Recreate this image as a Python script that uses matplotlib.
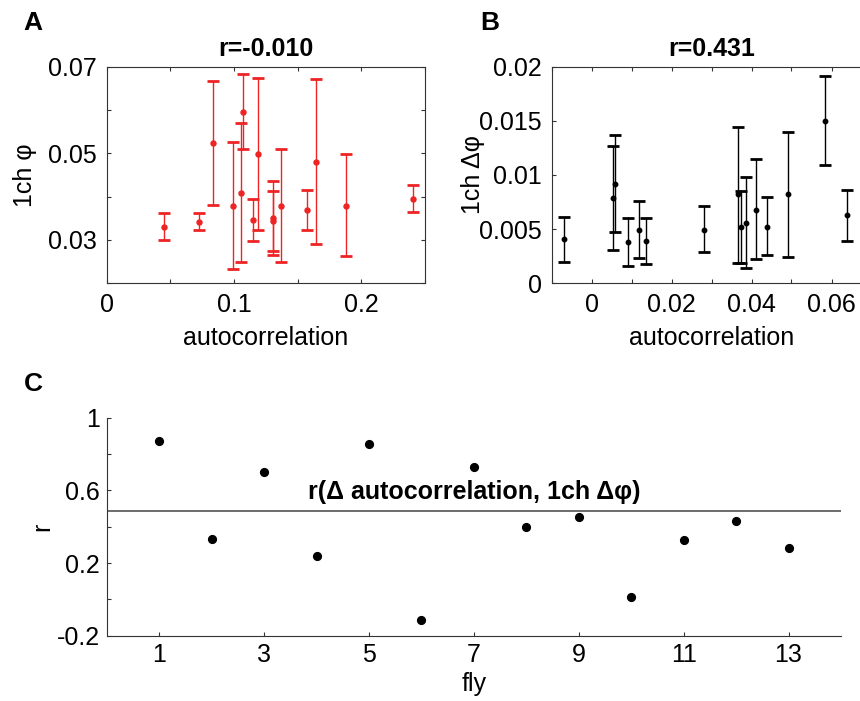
import numpy as np
import matplotlib
matplotlib.use('Agg')
import matplotlib.pyplot as plt

plt.rcParams['font.family'] = ['Liberation Sans', 'DejaVu Sans']

# --- Дані панелі A ---
a_x = [0.0451, 0.0729, 0.0837, 0.0992, 0.1052, 0.1068, 0.1149, 0.1188,
       0.1306, 0.1309, 0.1372, 0.1577, 0.1642, 0.1883, 0.2405]
a_y = [0.0331, 0.0342, 0.0523, 0.0379, 0.0409, 0.0595, 0.0346, 0.0499,
       0.0350, 0.0343, 0.0378, 0.0369, 0.0481, 0.0379, 0.0395]
a_lo = [0.0299, 0.0322, 0.0381, 0.0232, 0.0249, 0.0509, 0.0298, 0.0322,
        0.0266, 0.0275, 0.0249, 0.0323, 0.0291, 0.0262, 0.0364]
a_hi = [0.0362, 0.0363, 0.0667, 0.0526, 0.0570, 0.0684, 0.0395, 0.0675,
        0.0436, 0.0412, 0.0509, 0.0415, 0.0672, 0.0498, 0.0428]

# --- Дані панелі B ---
b_x = [-0.0069, 0.0054, 0.0059, 0.0092, 0.0119, 0.0136, 0.0280, 0.0367,
       0.0374, 0.0385, 0.0411, 0.0438, 0.0490, 0.0584, 0.0639]
b_y = [0.0041, 0.0079, 0.0092, 0.0038, 0.0049, 0.0039, 0.0049, 0.0082,
       0.0052, 0.0056, 0.0068, 0.0052, 0.0082, 0.0150, 0.0063]
b_lo = [0.0020, 0.0031, 0.0047, 0.0016, 0.0023, 0.0018, 0.0029, 0.0019,
        0.0019, 0.0014, 0.0022, 0.0026, 0.0024, 0.0109, 0.0039]
b_hi = [0.0061, 0.0127, 0.0137, 0.0060, 0.0076, 0.0060, 0.0071, 0.0144,
        0.0085, 0.0098, 0.0115, 0.0080, 0.0140, 0.0191, 0.0086]

# --- Дані панелі C ---
flies = np.arange(1, 14)
r_vals = [0.872, 0.333, 0.701, 0.236, 0.854, -0.114, 0.729, 0.399,
          0.456, 0.015, 0.328, 0.433, 0.284]
r_ref = 0.486

FS = 18
AX_COLOR = '#333333'

fig = plt.figure(figsize=(8.6, 7.01), dpi=100)
W, H = 860.0, 701.0


def px_axes(left, top, right, bottom):
    return fig.add_axes([left / W, 1 - bottom / H, (right - left) / W, (bottom - top) / H])


def style(ax, box=True, pad=7):
    for s in ax.spines.values():
        s.set_color(AX_COLOR)
        s.set_linewidth(0.8)
    if not box:
        ax.spines['top'].set_visible(False)
        ax.spines['right'].set_visible(False)
    ax.tick_params(direction='in', length=3, width=0.8, color=AX_COLOR,
                   labelsize=FS, top=box, right=box, pad=pad)


def err(y, lo, hi):
    y, lo, hi = np.array(y), np.array(lo), np.array(hi)
    return [y - lo, hi - y]


# --- Панель A ---
axA = px_axes(106.7, 66.7, 424.7, 283.3)
axA.errorbar(a_x, a_y, yerr=err(a_y, a_lo, a_hi), fmt='o', color='#ee2424',
             ms=3.6, elinewidth=1.0, capsize=4.5, capthick=2)
axA.set_xlim(0, 0.25)
axA.set_ylim(0.02, 0.07)
axA.set_xticks([0, 0.05, 0.1, 0.15, 0.2, 0.25])
axA.set_xticklabels(['0', '', '0.1', '', '0.2', ''])
axA.set_yticks([0.02, 0.03, 0.04, 0.05, 0.06, 0.07])
axA.set_yticklabels(['', '0.03', '', '0.05', '', '0.07'])
style(axA)
axA.set_title('r=-0.010', fontsize=FS, fontweight='bold', pad=7.5)
axA.set_xlabel('autocorrelation', fontsize=FS, labelpad=6.5)
axA.set_ylabel('1ch φ', fontsize=FS, labelpad=8)

# --- Панель B ---
axB = px_axes(551.5, 66.7, 871.5, 283.3)
axB.errorbar(b_x, b_y, yerr=err(b_y, b_lo, b_hi), fmt='o', color='black',
             ms=3.2, elinewidth=1.0, capsize=4.5, capthick=2)
axB.set_xlim(-0.01, 0.07)
axB.set_ylim(0, 0.02)
axB.set_xticks(np.arange(-0.01, 0.0701, 0.01))
axB.set_xticklabels(['', '0', '', '0.02', '', '0.04', '', '0.06', ''])
axB.set_yticks([0, 0.005, 0.01, 0.015, 0.02])
axB.set_yticklabels(['0', '0.005', '0.01', '0.015', '0.02'])
style(axB)
axB.set_title('r=0.431', fontsize=FS, fontweight='bold', pad=7.5)
axB.set_xlabel('autocorrelation', fontsize=FS, labelpad=6.5)
axB.set_ylabel('1ch Δφ', fontsize=FS, labelpad=-4)

# --- Панель C ---
axC = px_axes(106.7, 417.7, 841.0, 635.7)
axC.plot(flies, r_vals, 'o', color='black', ms=5.6)
axC.axhline(r_ref, color='#444444', lw=1.1)
axC.set_xlim(0, 14)
axC.set_ylim(-0.2, 1.0)
axC.set_xticks([1, 3, 5, 7, 9, 11, 13])
axC.set_yticks([-0.2, 0, 0.2, 0.4, 0.6, 0.8, 1.0])
axC.set_yticklabels(['-0.2', '', '0.2', '', '0.6', '', '1'])
style(axC, box=False, pad=5)
axC.text(0.5, 0.66, 'r(Δ autocorrelation, 1ch Δφ)', transform=axC.transAxes,
         ha='center', va='center', fontsize=FS, fontweight='bold')
axC.set_xlabel('fly', fontsize=FS, labelpad=4)
axC.set_ylabel('r', fontsize=FS, labelpad=2)

# --- Літери панелей ---
fig.text(33 / W, 1 - 23 / H, 'A', fontsize=19, fontweight='bold', ha='center', va='center')
fig.text(490 / W, 1 - 23 / H, 'B', fontsize=19, fontweight='bold', ha='center', va='center')
fig.text(33 / W, 1 - 384 / H, 'C', fontsize=19, fontweight='bold', ha='center', va='center')

fig.savefig('out.png', dpi=100)
